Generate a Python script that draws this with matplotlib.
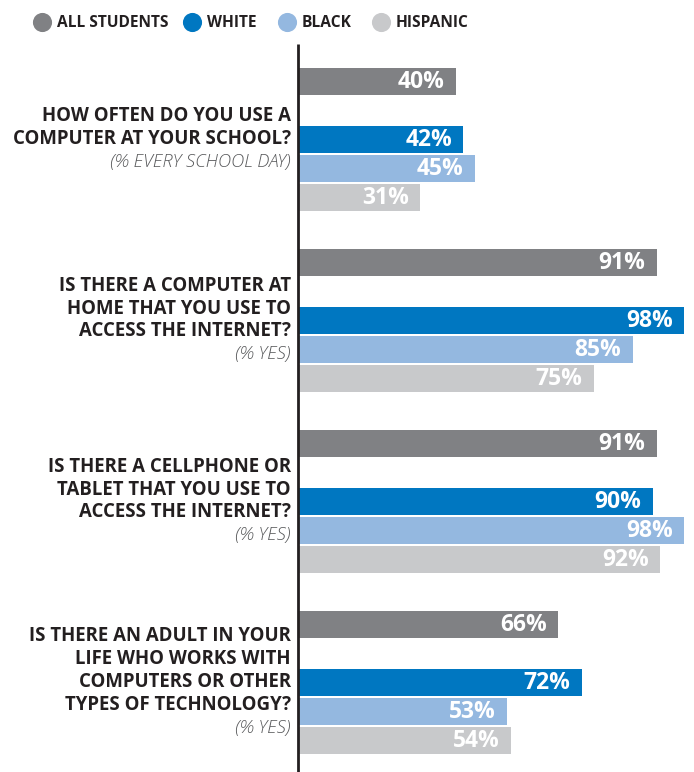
import matplotlib.pyplot as plt

# Data
questions = [
    ["HOW OFTEN DO YOU USE A", "COMPUTER AT YOUR SCHOOL?"],
    ["IS THERE A COMPUTER AT", "HOME THAT YOU USE TO", "ACCESS THE INTERNET?"],
    ["IS THERE A CELLPHONE OR", "TABLET THAT YOU USE TO", "ACCESS THE INTERNET?"],
    ["IS THERE AN ADULT IN YOUR", "LIFE WHO WORKS WITH", "COMPUTERS OR OTHER",
     "TYPES OF TECHNOLOGY?"],
]
subtitles = ["(% EVERY SCHOOL DAY)", "(% YES)", "(% YES)", "(% YES)"]
series_names = ["ALL STUDENTS", "WHITE", "BLACK", "HISPANIC"]
all_students = [40, 91, 91, 66]
white = [42, 98, 90, 72]
black = [45, 85, 98, 53]
hispanic = [31, 75, 92, 54]

colors = ["#808184", "#0077C1", "#94B8E0", "#C8C9CB"]
TEXT = "#231F20"
SUB = "#58595B"

plt.rcParams["font.family"] = ["Open Sans", "DejaVu Sans"]

W, H = 694, 772
fig = plt.figure(figsize=(W / 100, H / 100), dpi=100)

# bar axes: x=0 at px 298, x=100 at px 692; y in pixels
ax = fig.add_axes((298 / W, 0, 394 / W, 1))
ax.set_xlim(0, 100)
ax.set_ylim(H, 0)
ax.set_axis_off()

# overlay in pixel coordinates for labels / legend
lay = fig.add_axes((0, 0, 1, 1))
lay.set_xlim(0, W)
lay.set_ylim(H, 0)
lay.set_axis_off()

group_start = 81
group_step = 181
offsets = [0, 58, 87, 116]
bar_h = 27
series = [all_students, white, black, hispanic]

for g in range(len(questions)):
    base = group_start + g * group_step
    for s, vals in enumerate(series):
        y = base + offsets[s]
        ax.barh(y, vals[g], height=bar_h, color=colors[s], linewidth=0)
        ax.text(vals[g] - 2.9, y + 1, f"{vals[g]}%", ha="right", va="center",
                color="white", fontsize=16.5, fontweight="bold")

    # question label, centered on the group
    center = base + (offsets[0] + offsets[-1]) / 2
    lines = questions[g]
    n = len(lines) + 1
    step = 22.8
    for i, line in enumerate(lines):
        yy = center + (i - (n - 1) / 2) * step
        lay.text(291, yy, line, ha="right", va="center", color=TEXT,
                 fontsize=13.4, fontweight="bold")
    yy = center + (n - 1 - (n - 1) / 2) * step
    lay.text(291, yy, subtitles[g], ha="right", va="center", color=SUB,
             fontsize=13.2, fontstyle="italic", fontweight="light")

# vertical axis line
lay.plot([298, 298], [44, H], color=TEXT, linewidth=2, solid_capstyle="butt")

# legend
dot_x = [42, 192, 287, 381]
for x, name, c in zip(dot_x, series_names, colors):
    lay.scatter([x], [22], s=190, color=c, linewidths=0)
    lay.text(x + 15, 23, name, ha="left", va="center", color=TEXT,
             fontsize=11.2, fontweight="bold")

fig.savefig("out.png", dpi=100)
